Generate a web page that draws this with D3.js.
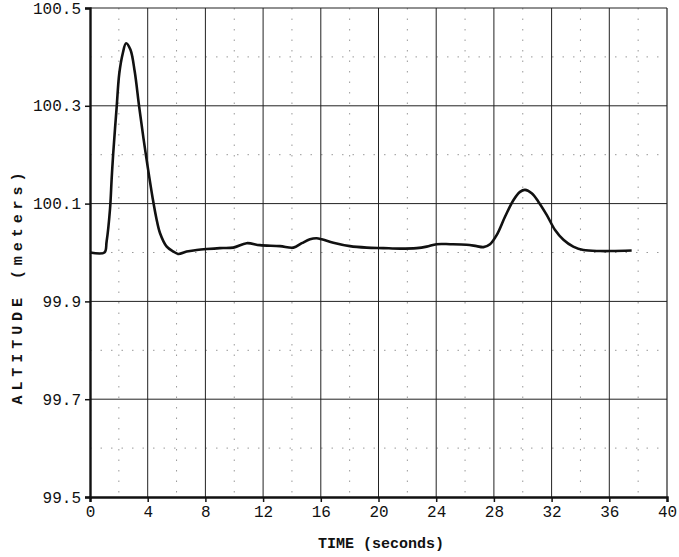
<!DOCTYPE html>
<html>
<head>
<meta charset="utf-8">
<script src="https://cdn.jsdelivr.net/npm/d3@7"></script>
<style>
  body { margin: 0; background: #fff; }
  svg { display: block; }
</style>
</head>
<body>
<div id="chart"></div>
<script>
// -------------------------
// DATA
// -------------------------
const timeSec = [0, 1.0, 1.15, 1.39, 1.5, 1.61, 1.85, 2.03, 2.27, 2.5, 2.8, 3.1, 3.4, 3.7, 4.0,
  4.35, 4.6, 4.85, 5.32, 5.78, 6.12, 6.7, 7.4, 8.09, 9.0, 9.93, 10.86, 11.78, 13.17, 14.1, 14.68,
  15.25, 15.71, 16.06, 16.87, 18.02, 19.18, 20.33, 21.49, 22.65, 23.34, 24.03, 24.96, 26.1, 26.8,
  27.27, 27.73, 28.2, 28.77, 29.35, 29.81, 30.16, 30.62, 31.08, 31.66, 32.24, 32.82, 33.5, 34.2,
  35.36, 36.16, 37.55];
const altitude = [100.0, 100.0, 100.022, 100.09, 100.15, 100.203, 100.298, 100.366, 100.407, 100.428,
  100.415, 100.37, 100.30, 100.235, 100.175, 100.11, 100.07, 100.04, 100.012, 100.002, 99.997,
  100.002, 100.005, 100.007, 100.009, 100.010, 100.019, 100.015, 100.013, 100.010, 100.019, 100.027,
  100.029, 100.027, 100.020, 100.013, 100.010, 100.009, 100.008, 100.009, 100.012, 100.017, 100.017,
  100.016, 100.013, 100.011, 100.017, 100.036, 100.073, 100.107, 100.124, 100.128, 100.121, 100.104,
  100.077, 100.046, 100.026, 100.012, 100.005, 100.003, 100.003, 100.004];

const xTicks = [0, 4, 8, 12, 16, 20, 24, 28, 32, 36, 40];
const xMinor = [2, 6, 10, 14, 18, 22, 26, 30, 34, 38];
const yTicks = [99.5, 99.7, 99.9, 100.1, 100.3, 100.5];
const yMinor = [99.6, 99.8, 100.0, 100.2, 100.4];
const xTitle = "TIME (seconds)";
const yTitle = "ALTITUDE (meters)";

// -------------------------
// LAYOUT
// -------------------------
const W = 679, H = 557;
const m = { top: 8, right: 12, bottom: 60, left: 90 };
const iw = W - m.left - m.right, ih = H - m.top - m.bottom;
const FONT = "'Liberation Mono', 'Courier New', monospace";

const svg = d3.select("#chart").append("svg").attr("width", W).attr("height", H);
const g = svg.append("g").attr("transform", `translate(${m.left},${m.top})`);

const x = d3.scaleLinear().domain([0, 40]).range([0, iw]);
const y = d3.scaleLinear().domain([99.5, 100.5]).range([ih, 0]);

// minor dotted grid
g.selectAll(".vminor").data(xMinor).enter().append("line")
  .attr("x1", d => x(d)).attr("x2", d => x(d)).attr("y1", 0).attr("y2", ih)
  .attr("stroke", "#999").attr("stroke-width", 1).attr("stroke-dasharray", "1.5,9");
g.selectAll(".hminor").data(yMinor).enter().append("line")
  .attr("x1", 0).attr("x2", iw).attr("y1", d => y(d)).attr("y2", d => y(d))
  .attr("stroke", "#999").attr("stroke-width", 1).attr("stroke-dasharray", "1.5,9");

// major grid
g.selectAll(".vmajor").data(xTicks.slice(1, -1)).enter().append("line")
  .attr("x1", d => x(d)).attr("x2", d => x(d)).attr("y1", 0).attr("y2", ih)
  .attr("stroke", "#222").attr("stroke-width", 1);
g.selectAll(".hmajor").data(yTicks.slice(1, -1)).enter().append("line")
  .attr("x1", 0).attr("x2", iw).attr("y1", d => y(d)).attr("y2", d => y(d))
  .attr("stroke", "#222").attr("stroke-width", 1);

// frame: top/right thin
g.append("line").attr("x1", 0).attr("x2", iw).attr("y1", 0).attr("y2", 0)
  .attr("stroke", "#222").attr("stroke-width", 1.2);
g.append("line").attr("x1", iw).attr("x2", iw).attr("y1", 0).attr("y2", ih)
  .attr("stroke", "#222").attr("stroke-width", 1.2);

// axes
const xAxis = g.append("g").attr("transform", `translate(0,${ih})`)
  .call(d3.axisBottom(x).tickValues(xTicks).tickSize(5).tickPadding(4).tickFormat(d3.format("d")));
const yAxis = g.append("g")
  .call(d3.axisLeft(y).tickValues(yTicks).tickSize(5).tickPadding(4).tickFormat(d3.format(".1f")));

[xAxis, yAxis].forEach(a => {
  a.select(".domain").attr("stroke", "#111").attr("stroke-width", 2.4);
  a.selectAll(".tick line").attr("stroke", "#111").attr("stroke-width", 1.5);
  a.selectAll("text").attr("font-family", FONT).attr("font-size", 16).attr("fill", "#111");
});

// curve
const line = d3.line()
  .x((d, i) => x(timeSec[i]))
  .y(d => y(d))
  .curve(d3.curveCatmullRom.alpha(0.5));
g.append("path").datum(altitude).attr("d", line)
  .attr("fill", "none").attr("stroke", "#111").attr("stroke-width", 2.6)
  .attr("stroke-linejoin", "round");

// titles
svg.append("text").attr("x", 381).attr("y", 548)
  .attr("text-anchor", "middle").attr("font-family", FONT).attr("font-size", 15)
  .attr("font-weight", "bold").attr("fill", "#111").text(xTitle);
svg.append("text")
  .attr("transform", `translate(22,${m.top + ih / 2 + 36}) rotate(-90)`)
  .attr("text-anchor", "middle").attr("font-family", FONT).attr("font-size", 15)
  .attr("font-weight", "bold").attr("fill", "#111")
  .attr("textLength", 232).attr("lengthAdjust", "spacing").text(yTitle);
</script>
</body>
</html>
